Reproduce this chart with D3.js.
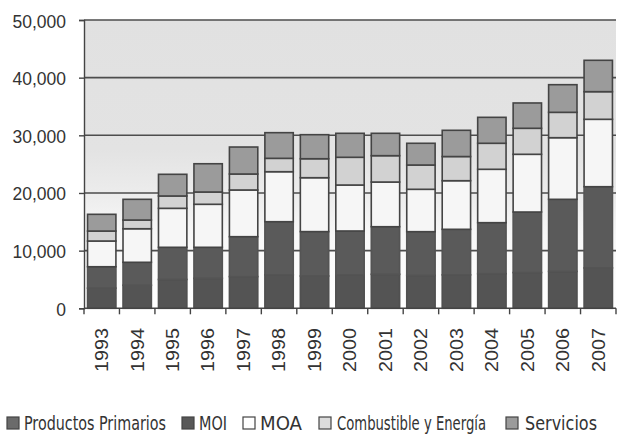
<!DOCTYPE html>
<html><head><meta charset="utf-8">
<script src="https://cdn.jsdelivr.net/npm/d3@7"></script>
<style>html,body{margin:0;padding:0;background:#fff;}svg{display:block;}</style>
</head><body>
<script>
const years = ["1993","1994","1995","1996","1997","1998","1999","2000","2001","2002","2003","2004","2005","2006","2007"];
const productosPrimarios = [3500,4000,5000,5200,5500,5800,5600,5800,5900,5700,5800,6000,6200,6400,7000];
const moi = [3710,3980,5580,5380,6920,9220,7700,7610,8250,7590,7900,8850,10500,12500,14090];
const moa = [4460,5820,6760,7460,8100,8670,9350,7970,7750,7350,8430,9260,10010,10690,11690];
const combustible = [1730,1510,2140,2130,2770,2320,3290,4810,4570,4210,4190,4510,4510,4400,4790];
const servicios = [2900,3590,3760,4900,4680,4450,4170,4160,3880,3770,4550,4500,4390,4790,5440];
const seriesNames = ["Productos Primarios","MOI","MOA","Combustible y Energía","Servicios"];
const yTicks = [0,10000,20000,30000,40000,50000];

const W=617,H=435;
const svg=d3.select("body").append("svg").attr("width",W).attr("height",H);
const defs=svg.append("defs");
const grad=defs.append("linearGradient").attr("id","bg").attr("x1",0).attr("y1",0).attr("x2",0).attr("y2",1);
[[0,"#e1e1e1"],[0.45,"#e3e3e3"],[0.6,"#ececec"],[0.75,"#f8f8f8"],[1,"#ffffff"]].forEach(s=>grad.append("stop").attr("offset",s[0]).attr("stop-color",s[1]));

const x=d3.scaleBand().domain(years).range([84,616]).paddingInner(0.2).paddingOuter(0.1);
const y=d3.scaleLinear().domain([0,50000]).range([308.3,20]);

svg.append("rect").attr("x",84).attr("y",y(50000)).attr("width",532).attr("height",y(0)-y(50000)).attr("fill","url(#bg)");

svg.append("g").selectAll("line").data(yTicks.slice(1)).join("line")
  .attr("x1",84).attr("x2",616).attr("y1",d=>y(d)).attr("y2",d=>y(d))
  .attr("stroke","#4d4d4d").attr("stroke-width",1.6);

const table=years.map((yr,i)=>({year:yr,"Productos Primarios":productosPrimarios[i],"MOI":moi[i],"MOA":moa[i],"Combustible y Energía":combustible[i],"Servicios":servicios[i]}));
const stack=d3.stack().keys(seriesNames)(table);
const fills={"Productos Primarios":"#545454","MOI":"#5a5a5a","MOA":"#f6f6f6","Combustible y Energía":"#d2d2d2","Servicios":"#9b9b9b"};
const strokes={"Productos Primarios":"#505050","MOI":"#545454","MOA":"#444","Combustible y Energía":"#444","Servicios":"#444"};

svg.append("g").selectAll("g").data(stack).join("g")
  .attr("fill",d=>fills[d.key]).attr("stroke",d=>strokes[d.key]).attr("stroke-width",1.6)
  .selectAll("rect").data(d=>d).join("rect")
  .attr("x",d=>x(d.data.year)).attr("width",x.bandwidth())
  .attr("y",d=>y(d[1])).attr("height",d=>y(d[0])-y(d[1]));

const yAxis=d3.axisLeft(y).tickValues(yTicks).tickSize(5).tickFormat(d3.format(","));
const gy=svg.append("g").attr("transform","translate(84,0)").call(yAxis);
gy.select(".domain").attr("stroke","#444").attr("stroke-width",1.4);
gy.selectAll(".tick line").attr("stroke","#444").attr("stroke-width",1.4);
gy.selectAll(".tick text")
  .attr("x",0).attr("dy",null).attr("y",0)
  .attr("font-family","Liberation Sans, Arial, sans-serif").attr("font-size",17.5).attr("fill","#333")
  .attr("text-anchor","end")
  .attr("transform","translate(-18,7) scale(1,1.1)");

const gx=svg.append("g").attr("transform",`translate(0,${y(0)})`);
gx.append("line").attr("x1",84).attr("x2",616).attr("stroke","#444").attr("stroke-width",1.6);
const bounds=years.map(yr=>x(yr)-x.step()*x.paddingInner()/2).concat([616]);
bounds[0]=84;
gx.selectAll("line.tk").data(bounds).join("line").attr("class","tk")
  .attr("x1",d=>d).attr("x2",d=>d).attr("y1",0).attr("y2",6).attr("stroke","#444").attr("stroke-width",1.4);
gx.selectAll("text").data(years).join("text")
  .attr("transform",d=>`translate(${x(d)+x.bandwidth()/2},${328-y(0)}) rotate(-90) scale(1.13,1)`)
  .attr("text-anchor","end").attr("dy","0.36em")
  .attr("font-family","Liberation Sans, Arial, sans-serif").attr("font-size",17.5).attr("fill","#333")
  .text(d=>d);

const legendItems=[
  {name:"Productos Primarios",sx:7,tx:24,tw:142,fill:"#6b6b6b"},
  {name:"MOI",sx:182,tx:199,tw:28,fill:"#585858"},
  {name:"MOA",sx:243,tx:260,tw:42,fill:"#ffffff"},
  {name:"Combustible y Energía",sx:319,tx:337,tw:149,fill:"#dcdcdc"},
  {name:"Servicios",sx:506,tx:525,tw:72,fill:"#9b9b9b"}
];
const lg=svg.append("g");
lg.selectAll("rect").data(legendItems).join("rect")
  .attr("x",d=>d.sx).attr("y",417).attr("width",12).attr("height",12)
  .attr("fill",d=>d.fill).attr("stroke","#444").attr("stroke-width",1.2);
lg.selectAll("text").data(legendItems).join("text")
  .attr("x",d=>d.tx).attr("y",430)
  .attr("font-family","Liberation Sans Narrow, Arial Narrow, DejaVu Sans Condensed, sans-serif")
  .attr("font-size",19).attr("fill","#333")
  .attr("textLength",d=>d.tw).attr("lengthAdjust","spacingAndGlyphs")
  .text(d=>d.name);
</script>
</body></html>
